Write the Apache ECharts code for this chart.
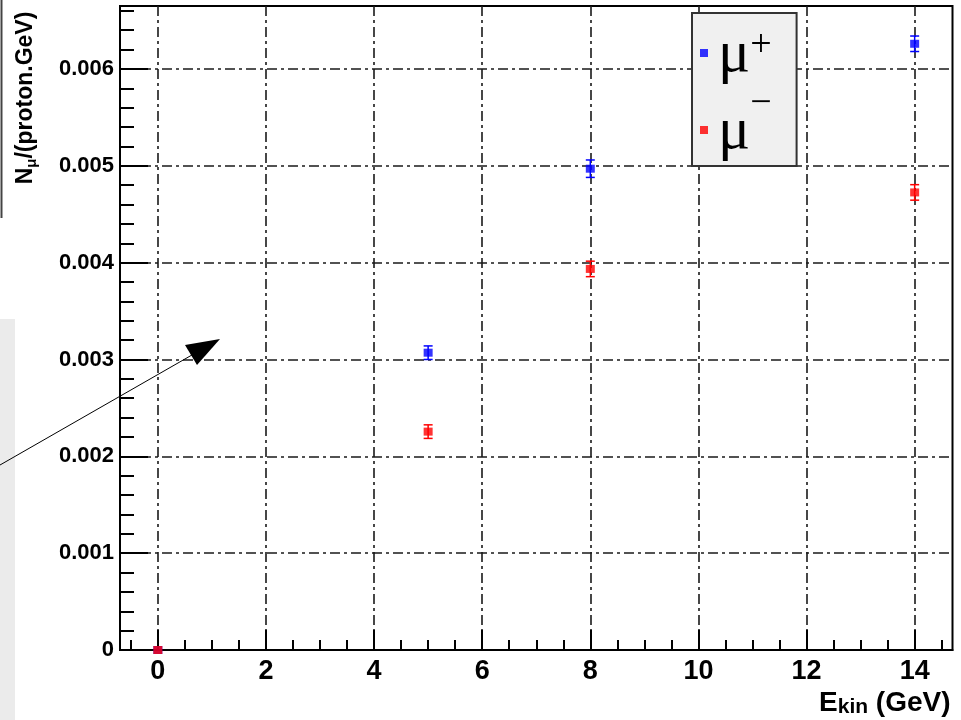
<!DOCTYPE html>
<html>
<head>
<meta charset="utf-8">
<script src="https://cdn.jsdelivr.net/npm/echarts@6/dist/echarts.min.js"></script>
<style>html,body{margin:0;padding:0;background:#fff;}#c{width:961px;height:720px;}</style>
</head>
<body>
<div id="c"></div>
<script>
// ---- data ----
const energies = [0, 5, 8, 14];                       // E_kin (GeV)
const muPlus = [0, 0.00307, 0.00497, 0.00626];        // N_mu+/(proton.GeV)
const muPlusErr = [0, 0.00007, 0.00009, 0.00008];
const muMinus = [0, 0.002255, 0.003935, 0.004725];    // N_mu-/(proton.GeV)
const muMinusErr = [0, 0.00007, 0.00008, 0.00008];

// ---- ticks ----
const xMajorTicks = [0, 2, 4, 6, 8, 10, 12, 14];
const xMinorTicks = [-0.5, 0.5, 1, 1.5, 2.5, 3, 3.5, 4.5, 5, 5.5, 6.5, 7, 7.5, 8.5, 9, 9.5, 10.5, 11, 11.5, 12.5, 13, 13.5, 14.5];
const yMajorTicks = [0, 0.001, 0.002, 0.003, 0.004, 0.005, 0.006];
const yMinorTicks = [0.0002, 0.0004, 0.0006, 0.0008, 0.0012, 0.0014, 0.0016, 0.0018, 0.0022, 0.0024, 0.0026, 0.0028, 0.0032, 0.0034, 0.0036, 0.0038, 0.0042, 0.0044, 0.0046, 0.0048, 0.0052, 0.0054, 0.0056, 0.0058, 0.0062, 0.0064, 0.0066];
const xMin = -0.7, xMax = 14.7, yMin = 0, yMax = 0.00665;

const gridLine = { color: '#1a1a1a', width: 1.6, type: [10, 4, 3, 4] };
const labelFont = 'Liberation Sans';

function pts(vals) { return energies.map((e, i) => [e, vals[i]]); }
function errData(vals, errs) { return energies.map((e, i) => [e, vals[i], errs[i]]); }

function errRender(color) {
  return function (params, api) {
    const x = api.value(0), y = api.value(1), e = api.value(2);
    if (!e) return null;
    const top = api.coord([x, y + e]);
    const bot = api.coord([x, y - e]);
    const hw = 4.5;
    return {
      type: 'group',
      children: [
        { type: 'line', shape: { x1: top[0], y1: top[1], x2: bot[0], y2: bot[1] }, style: { stroke: color, lineWidth: 1.5 } },
        { type: 'line', shape: { x1: top[0] - hw, y1: top[1], x2: top[0] + hw, y2: top[1] }, style: { stroke: color, lineWidth: 1.5 } },
        { type: 'line', shape: { x1: bot[0] - hw, y1: bot[1], x2: bot[0] + hw, y2: bot[1] }, style: { stroke: color, lineWidth: 1.5 } }
      ]
    };
  };
}

const chart = echarts.init(document.getElementById('c'), null, { renderer: 'canvas' });
const option = {
  animation: false,
  backgroundColor: '#ffffff',
  grid: { left: 120, right: 8.5, top: 6, bottom: 70, show: true, borderColor: '#000', borderWidth: 2, backgroundColor: 'transparent' },
  legend: {
    orient: 'vertical', left: 692, top: 13,
    backgroundColor: '#f0f0f0', borderColor: '#333', borderWidth: 2,
    padding: [6, 25, 4, 8], itemGap: 0, itemWidth: 8, itemHeight: 8, icon: 'rect',
    data: ['mu+', 'mu-'],
    formatter: function (n) { return n === 'mu+' ? '{mu|μ}{p|+}' : '{mu|μ}{m|−}'; },
    textStyle: {
      rich: {
        mu: { fontFamily: 'Liberation Serif', fontSize: 60, lineHeight: 68, color: '#000', padding: [4, 0, 0, 5] },
        p: { fontFamily: 'Liberation Serif', fontSize: 38, lineHeight: 60, color: '#000', verticalAlign: 'top', padding: [8, 0, 0, 0] },
        m: { fontFamily: 'Liberation Serif', fontSize: 38, lineHeight: 24, color: '#000', verticalAlign: 'top', padding: [-11, 0, 0, 0] }
      }
    }
  },
  xAxis: [
    {
      type: 'value', min: xMin, max: xMax,
      axisLine: { show: true, onZero: false, lineStyle: { color: '#000', width: 2 } },
      axisTick: { show: true, inside: true, length: 20, customValues: xMajorTicks, lineStyle: { color: '#000', width: 2 } },
      axisLabel: { show: true, customValues: xMajorTicks, margin: 8, fontFamily: labelFont, fontWeight: 'bold', fontSize: 27, color: '#000' },
      splitLine: { show: true, lineStyle: gridLine },
      name: '{e|E}{s|kin}{e| (GeV)}', nameLocation: 'end', nameGap: -2,
      nameTextStyle: {
        align: 'right', verticalAlign: 'top', padding: [38, 0, 0, 0],
        rich: {
          e: { fontFamily: labelFont, fontWeight: 'bold', fontSize: 28, color: '#000', lineHeight: 30 },
          s: { fontFamily: labelFont, fontWeight: 'bold', fontSize: 21, color: '#000', lineHeight: 30, verticalAlign: 'bottom' }
        }
      }
    },
    {
      type: 'value', min: xMin, max: xMax, position: 'bottom',
      axisLine: { show: false, onZero: false },
      axisTick: { show: true, inside: true, length: 10, customValues: xMinorTicks, lineStyle: { color: '#000', width: 2 } },
      axisLabel: { show: false },
      splitLine: { show: false }
    }
  ],
  yAxis: [
    {
      type: 'value', min: yMin, max: yMax,
      axisLine: { show: true, onZero: false, lineStyle: { color: '#000', width: 2 } },
      axisTick: { show: true, inside: true, length: 28, customValues: yMajorTicks, lineStyle: { color: '#000', width: 2 } },
      axisLabel: {
        show: true, customValues: yMajorTicks, margin: 6, fontFamily: labelFont, fontWeight: 'bold', fontSize: 22, color: '#000',
        formatter: function (v) { return v === 0 ? '0' : v.toFixed(3); }
      },
      splitLine: { show: true, lineStyle: gridLine }
    },
    {
      type: 'value', min: yMin, max: yMax, position: 'left',
      axisLine: { show: false, onZero: false },
      axisTick: { show: true, inside: true, length: 14, customValues: yMinorTicks, lineStyle: { color: '#000', width: 2 } },
      axisLabel: { show: false },
      splitLine: { show: false }
    }
  ],
  series: [
    { name: 'mu+', type: 'scatter', data: pts(muPlus), symbol: 'rect', symbolSize: [9, 8], itemStyle: { color: '#0000ff' }, z: 5 },
    { name: 'mu+err', type: 'custom', data: errData(muPlus, muPlusErr), renderItem: errRender('#0000ff'), z: 4 },
    { name: 'mu-', type: 'scatter', data: pts(muMinus), symbol: 'rect', symbolSize: [9, 8], itemStyle: { color: '#ff0000' }, z: 6 },
    { name: 'mu-err', type: 'custom', data: errData(muMinus, muMinusErr), renderItem: errRender('#ff0000'), z: 4 }
  ],
  graphic: [
    { type: 'rect', shape: { x: 0, y: 319, width: 15, height: 401 }, style: { fill: '#ebebeb' }, z: -1 },
    { type: 'line', shape: { x1: 1.5, y1: 0, x2: 1.5, y2: 218 }, style: { stroke: '#444', lineWidth: 2 } },
    { type: 'line', shape: { x1: 0, y1: 465, x2: 205, y2: 347.5 }, style: { stroke: '#000', lineWidth: 1 }, z: 50 },
    { type: 'polygon', shape: { points: [[220, 339], [185, 345], [197, 365]] }, style: { fill: '#000' }, z: 50 },
    {
      type: 'text', x: 26, y: 98, rotation: Math.PI / 2, z: 50,
      style: {
        text: '{n|N}{s|μ}{n|/(proton.GeV)}', align: 'center', verticalAlign: 'middle',
        rich: {
          n: { fontFamily: labelFont, fontWeight: 'bold', fontSize: 23, fill: '#000', lineHeight: 26 },
          s: { fontFamily: labelFont, fontWeight: 'bold', fontSize: 15, fill: '#000', lineHeight: 26, verticalAlign: 'bottom' }
        }
      }
    }
  ]
};
chart.setOption(option);
</script>
</body>
</html>
